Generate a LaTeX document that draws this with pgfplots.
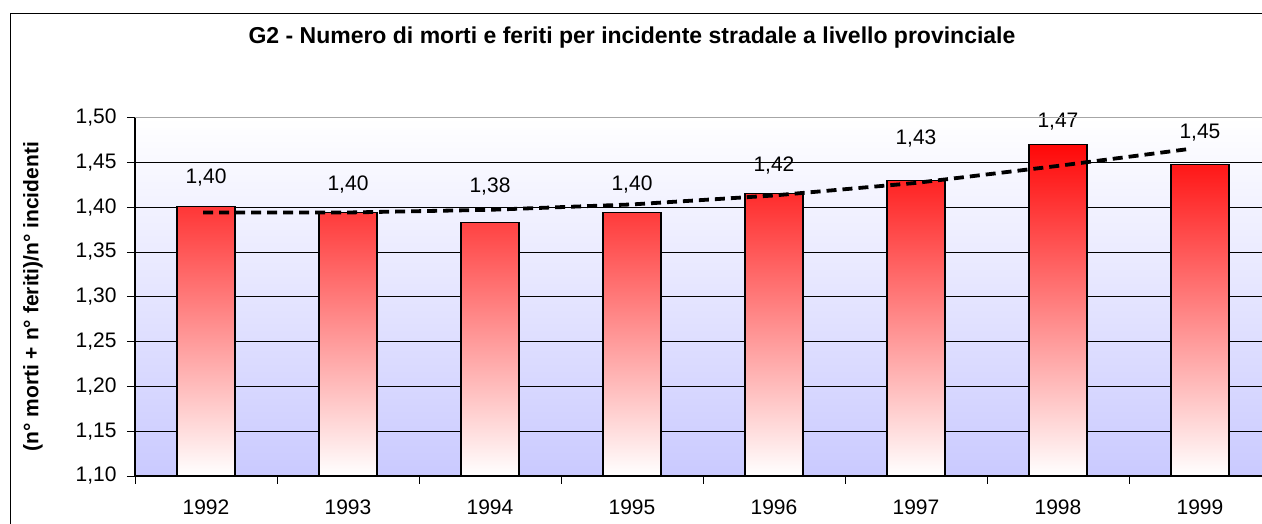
\documentclass[border=0pt]{standalone}
\usepackage{fontspec}
\setmainfont{Liberation Sans}
\usepackage{pgfplots}
\pgfplotsset{compat=1.18}
\definecolor{plotbot}{RGB}{202,202,255}
\definecolor{barred}{RGB}{255,8,8}

\begin{document}
\begin{tikzpicture}
\begin{axis}[
    at={(0pt,0pt)}, anchor=south west,
    width=1136pt, height=358.5pt, scale only axis,
    xmin=0.5, xmax=8.5, ymin=1.10, ymax=1.50,
    y coord trafo/.code={\pgfmathparse{#1-1.1}},
    y coord inv trafo/.code={\pgfmathparse{#1+1.1}},
    axis x line*=bottom, axis y line*=left,
    axis line style={black, line width=1.2pt},
    xtick={0.5,1.5,2.5,3.5,4.5,5.5,6.5,7.5,8.5},
    xticklabels={1992,1993,1994,1995,1996,1997,1998,1999},
    x tick label as interval,
    xticklabel style={yshift=-12pt},
    ytick={1.10,1.15,1.20,1.25,1.30,1.35,1.40,1.45,1.50},
    yticklabel style={xshift=-7pt, /pgf/number format/.cd, fixed, fixed zerofill, precision=2, use comma, assume math mode=true},
    tick label style={font=\fontsize{21}{25}\selectfont},
    tick align=outside, major tick length=8pt,
    tick style={black, line width=0.8pt},
    ymajorgrids, major grid style={black, line width=0.8pt},
    axis background/.style={top color=white, bottom color=plotbot},
    ylabel={(n° morti + n° feriti)/n° incidenti},
    every axis y label/.style={at={(axis description cs:0,0.5)}, xshift=-102pt, rotate=90, anchor=center,
        font=\bfseries\fontsize{21}{25}\selectfont},
    title={G2 - Numero di morti e feriti per incidente stradale a livello provinciale},
    title style={font=\bfseries\fontsize{23}{27}\selectfont, at={(axis description cs:0.4375,1.191)}, anchor=base},
]
\addplot[ybar, bar width=58pt, draw=black, line width=1.2pt, top color=barred, bottom color=white]
    coordinates {(1,1.401) (2,1.394) (3,1.383) (4,1.394) (5,1.415) (6,1.430) (7,1.470) (8,1.448)};
\addplot[black, line width=3.8pt, dash pattern=on 10pt off 6pt]
    coordinates {(0.98,1.394) (2,1.394) (3,1.397) (4,1.403) (5,1.413) (6,1.427) (7,1.446) (7.93,1.465)};
\addplot[draw=none, mark=none, nodes near coords, point meta=explicit symbolic,
    every node near coord/.append style={anchor=center, font=\fontsize{21}{25}\selectfont}]
    coordinates {(1,1.4325)[1,40] (2,1.4247)[1,40] (3,1.4225)[1,38] (4,1.4247)[1,40]
                 (5,1.4459)[1,42] (6,1.4771)[1,43] (7,1.495)[1,47] (8,1.4827)[1,45]};
\end{axis}
\draw[gray!70, line width=1.2pt] (0pt,358.5pt) -- (1136pt,358.5pt);
\draw[black, line width=1pt] (-124pt,-60pt) -- (-124pt,462pt) -- (1140pt,462pt);
\pgfresetboundingbox
\path[use as bounding box] (-135pt,-48pt) rectangle (1127pt,476pt);
\end{tikzpicture}
\end{document}
